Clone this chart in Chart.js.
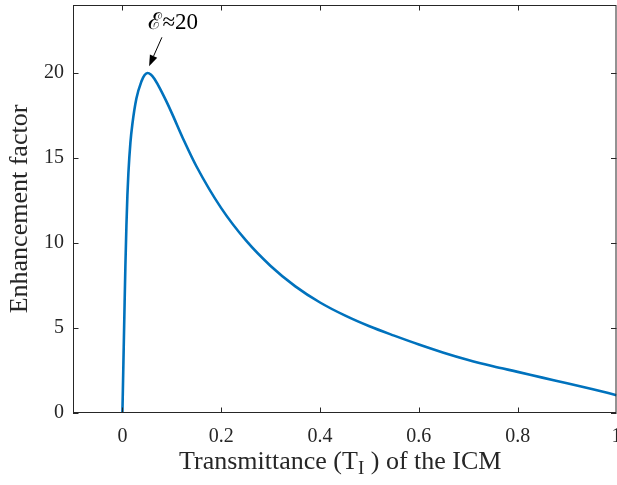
<!DOCTYPE html>
<html>
<head>
<meta charset="utf-8">
<script src="https://cdn.jsdelivr.net/npm/chart.js@4"></script>
<style>
  html, body { margin: 0; padding: 0; background: #fff; }
  canvas { display: block; }
</style>
</head>
<body>
<canvas id="chart" width="617" height="485"></canvas>
<script>
// ── data ──
const transmittance = [0, 0.002, 0.004, 0.006, 0.0081, 0.0101, 0.0121, 0.0162, 0.0202, 0.0283,
                       0.0384, 0.045, 0.0506, 0.058, 0.065, 0.072, 0.08, 0.09, 0.1, 0.125,
                       0.15, 0.2, 0.25, 0.3, 0.35, 0.4, 0.45, 0.5, 0.55, 0.6,
                       0.65, 0.7, 0.75, 0.8, 0.85, 0.9, 0.95, 1.0];
const enhancement   = [0, 2.9, 5.8, 8.6, 11.0, 12.8, 14.1, 15.9, 17.0, 18.5,
                       19.5, 19.88, 20.0, 19.9, 19.65, 19.3, 18.86, 18.27, 17.64, 16.0,
                       14.5, 12.05, 10.15, 8.65, 7.45, 6.5, 5.74, 5.1, 4.55, 4.03,
                       3.55, 3.12, 2.75, 2.42, 2.08, 1.75, 1.41, 1.05];

const xTicks = [0, 0.2, 0.4, 0.6, 0.8, 1];
const yTicks = [0, 5, 10, 15, 20];

const peakLabel = 'ℰ≈20';
const peakTip   = [0.054, 20.4];
const peakTail  = [0.080, 22.1];
const peakText  = [0.103, 22.6];

const FONT = "'Liberation Serif', 'Times New Roman', serif";
const INK  = '#262626';

// box, inward ticks, annotation and x title
const matlabAxes = {
  id: 'matlabAxes',
  afterDraw(chart) {
    const { ctx, chartArea: a, scales: { x, y } } = chart;
    ctx.save();
    ctx.strokeStyle = INK;
    ctx.lineWidth = 1;
    ctx.strokeRect(a.left + 0.5, a.top + 0.5, a.right - a.left - 1, a.bottom - a.top - 1);

    const tl = 5.5;
    ctx.beginPath();
    xTicks.forEach(v => {
      const px = Math.round(x.getPixelForValue(v)) + 0.5;
      ctx.moveTo(px, a.bottom); ctx.lineTo(px, a.bottom - tl);
      ctx.moveTo(px, a.top);    ctx.lineTo(px, a.top + tl);
    });
    yTicks.forEach(v => {
      const py = Math.round(y.getPixelForValue(v)) + 0.5;
      ctx.moveTo(a.left, py);  ctx.lineTo(a.left + tl, py);
      ctx.moveTo(a.right, py); ctx.lineTo(a.right - tl, py);
    });
    ctx.stroke();

    // arrow to the peak
    const tx = x.getPixelForValue(peakTip[0]),  ty = y.getPixelForValue(peakTip[1]);
    const sx = x.getPixelForValue(peakTail[0]), sy = y.getPixelForValue(peakTail[1]);
    const ang = Math.atan2(ty - sy, tx - sx);
    const hl = 11, hw = 4;
    const bx = tx - hl * Math.cos(ang), by = ty - hl * Math.sin(ang);
    ctx.strokeStyle = '#000';
    ctx.beginPath();
    ctx.moveTo(sx, sy); ctx.lineTo(bx, by);
    ctx.stroke();
    ctx.fillStyle = '#000';
    ctx.beginPath();
    ctx.moveTo(tx, ty);
    ctx.lineTo(bx + hw * Math.sin(ang), by - hw * Math.cos(ang));
    ctx.lineTo(bx - hw * Math.sin(ang), by + hw * Math.cos(ang));
    ctx.closePath();
    ctx.fill();

    ctx.font = '23px ' + FONT;
    ctx.fillStyle = '#000';
    ctx.textAlign = 'center';
    ctx.textBaseline = 'alphabetic';
    ctx.fillText(peakLabel, x.getPixelForValue(peakText[0]), y.getPixelForValue(peakText[1]));

    // x title with subscript
    const big = '26px ' + FONT, small = '19px ' + FONT;
    const p1 = 'Transmittance (T', p2 = 'I', p3 = ' ) of the ICM';
    ctx.font = big;
    const w1 = ctx.measureText(p1).width, w3 = ctx.measureText(p3).width;
    ctx.font = small;
    const w2 = ctx.measureText(p2).width;
    let cx = (a.left + a.right) / 2 - 4.5 - (w1 + w2 + w3) / 2;
    const base = 469;
    ctx.fillStyle = INK;
    ctx.textAlign = 'left';
    ctx.font = big;   ctx.fillText(p1, cx, base); cx += w1;
    ctx.font = small; ctx.fillText(p2, cx, base + 5); cx += w2;
    ctx.font = big;   ctx.fillText(p3, cx, base);
    ctx.restore();
  }
};

new Chart(document.getElementById('chart'), {
  type: 'line',
  data: {
    datasets: [{
      data: transmittance.map((t, i) => ({ x: t, y: enhancement[i] })),
      borderColor: '#0072BD',
      borderWidth: 2.6,
      pointRadius: 0,
      fill: false,
      cubicInterpolationMode: 'monotone'
    }]
  },
  options: {
    responsive: false,
    animation: false,
    layout: { padding: { top: 5, right: 0.5, left: 0, bottom: 0 } },
    plugins: { legend: { display: false }, tooltip: { enabled: false } },
    scales: {
      x: {
        type: 'linear', min: -0.1, max: 1,
        afterBuildTicks: s => { s.ticks = xTicks.map(v => ({ value: v })); },
        afterFit: s => { s.height = 72; s.paddingLeft = 0; s.paddingRight = 0; },
        grid: { display: false, drawTicks: false },
        border: { display: false },
        ticks: {
          font: { family: FONT, size: 20 }, color: INK, padding: 12,
          maxRotation: 0, autoSkip: false, callback: v => String(v)
        }
      },
      y: {
        type: 'linear', min: 0, max: 24,
        afterBuildTicks: s => { s.ticks = yTicks.map(v => ({ value: v })); },
        afterFit: s => { s.width = 73; s.paddingTop = 0; s.paddingBottom = 0; },
        grid: { display: false, drawTicks: false },
        border: { display: false },
        ticks: {
          font: { family: FONT, size: 20 }, color: INK, padding: 9,
          autoSkip: false, callback: v => String(v)
        },
        title: {
          display: true, text: 'Enhancement factor', color: INK,
          font: { family: FONT, size: 26 }, padding: { top: 5, bottom: 0 }
        }
      }
    }
  },
  plugins: [matlabAxes]
});
</script>
</body>
</html>
